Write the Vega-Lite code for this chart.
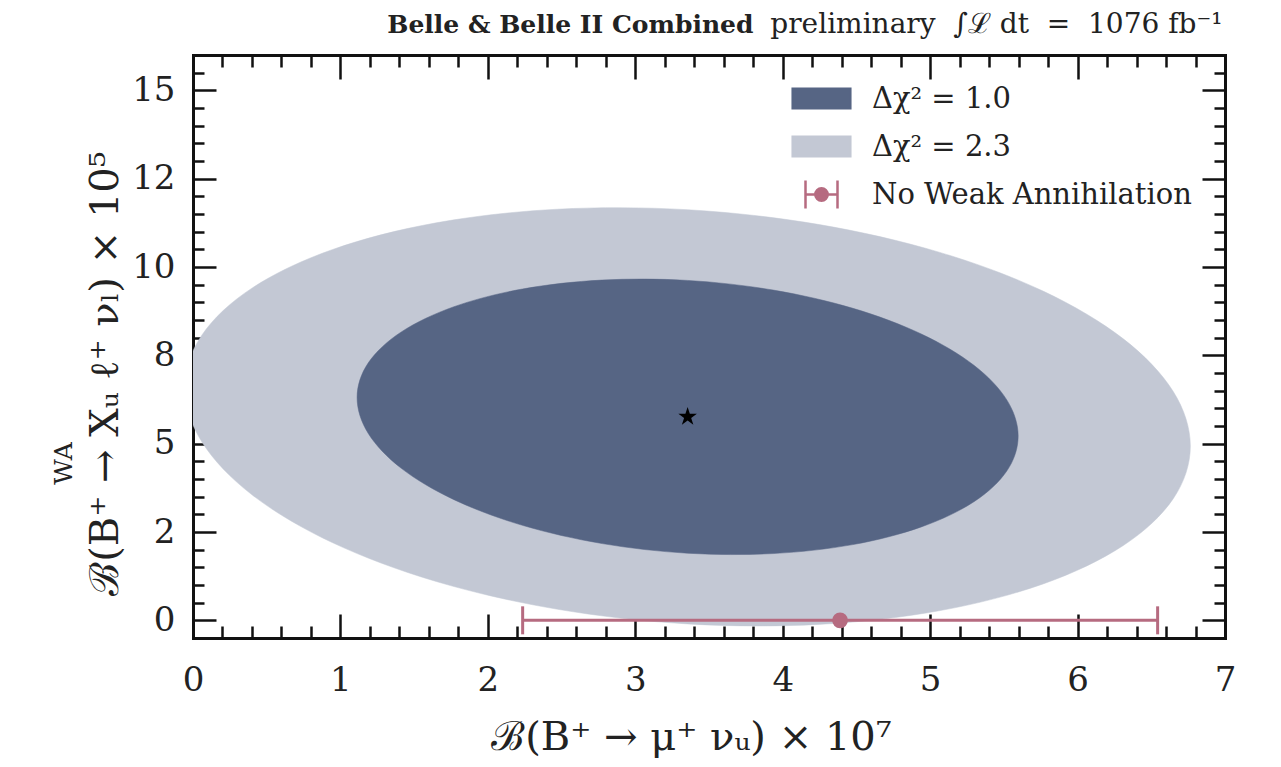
{
  "$schema": "https://vega.github.io/schema/vega-lite/v6.json",
  "width": 1032,
  "height": 583,
  "autosize": {"type": "none"},
  "padding": {"left": 193, "top": 55, "right": 56, "bottom": 129},
  "background": "white",
  "title": {
    "text": "WA",
    "orient": "left",
    "anchor": "middle",
    "frame": "group",
    "font": "DejaVu Serif",
    "fontSize": 25,
    "fontWeight": "normal",
    "color": "#222222",
    "baseline": "bottom",
    "offset": 6,
    "dx": -117,
    "dy": 23
  },
  "config": {
    "view": {"stroke": null},
    "axis": {
      "grid": false,
      "zindex": 1,
      "domainColor": "#111111",
      "domainWidth": 3,
      "domainCap": "square",
      "tickColor": "#111111",
      "tickWidth": 2.5,
      "labelFont": "DejaVu Serif",
      "labelFontSize": 34,
      "labelColor": "#222222",
      "labelOverlap": false,
      "labelFlush": false,
      "titleFont": "DejaVu Serif",
      "titleFontSize": 40,
      "titleFontWeight": "normal",
      "titleColor": "#222222"
    },
    "legend": {
      "orient": "none",
      "legendX": 607,
      "legendY": 22,
      "padding": 0,
      "symbolSize": 1600,
      "symbolStrokeWidth": 2.5,
      "symbolOpacity": 1,
      "labelFont": "DejaVu Serif",
      "labelFontSize": 29,
      "labelColor": "#222222",
      "labelOffset": 29,
      "labelLimit": 0,
      "rowPadding": 11
    }
  },
  "datasets": {
    "outer": [
      {"k": 0, "x": 6.765, "y": 4.931},
      {"k": 1, "x": 6.649, "y": 3.443},
      {"k": 2, "x": 6.308, "y": 2.112},
      {"k": 3, "x": 5.766, "y": 1.030},
      {"k": 4, "x": 5.060, "y": 0.270},
      {"k": 5, "x": 4.238, "y": -0.116},
      {"k": 6, "x": 3.355, "y": -0.101},
      {"k": 7, "x": 2.473, "y": 0.313},
      {"k": 8, "x": 1.650, "y": 1.099},
      {"k": 9, "x": 0.944, "y": 2.202},
      {"k": 10, "x": 0.402, "y": 3.547},
      {"k": 11, "x": 0.061, "y": 5.044},
      {"k": 12, "x": -0.055, "y": 6.589},
      {"k": 13, "x": 0.061, "y": 8.078},
      {"k": 14, "x": 0.402, "y": 9.408},
      {"k": 15, "x": 0.944, "y": 10.491},
      {"k": 16, "x": 1.650, "y": 11.250},
      {"k": 17, "x": 2.473, "y": 11.636},
      {"k": 18, "x": 3.355, "y": 11.621},
      {"k": 19, "x": 4.238, "y": 11.207},
      {"k": 20, "x": 5.060, "y": 10.421},
      {"k": 21, "x": 5.766, "y": 9.318},
      {"k": 22, "x": 6.308, "y": 7.973},
      {"k": 23, "x": 6.649, "y": 6.476}
    ],
    "inner": [
      {"k": 0, "x": 5.597, "y": 5.214},
      {"k": 1, "x": 5.521, "y": 4.233},
      {"k": 2, "x": 5.297, "y": 3.357},
      {"k": 3, "x": 4.940, "y": 2.644},
      {"k": 4, "x": 4.476, "y": 2.143},
      {"k": 5, "x": 3.935, "y": 1.889},
      {"k": 6, "x": 3.355, "y": 1.899},
      {"k": 7, "x": 2.775, "y": 2.172},
      {"k": 8, "x": 2.234, "y": 2.689},
      {"k": 9, "x": 1.770, "y": 3.416},
      {"k": 10, "x": 1.413, "y": 4.302},
      {"k": 11, "x": 1.189, "y": 5.288},
      {"k": 12, "x": 1.113, "y": 6.306},
      {"k": 13, "x": 1.189, "y": 7.287},
      {"k": 14, "x": 1.413, "y": 8.163},
      {"k": 15, "x": 1.770, "y": 8.876},
      {"k": 16, "x": 2.234, "y": 9.377},
      {"k": 17, "x": 2.775, "y": 9.631},
      {"k": 18, "x": 3.355, "y": 9.621},
      {"k": 19, "x": 3.935, "y": 9.348},
      {"k": 20, "x": 4.476, "y": 8.831},
      {"k": 21, "x": 4.940, "y": 8.104},
      {"k": 22, "x": 5.297, "y": 7.218},
      {"k": 23, "x": 5.521, "y": 6.232}
    ],
    "bestfit": [{"x": 3.355, "y": 5.76}],
    "nowa": [{"lo": 2.236, "hi": 6.543, "mid": 4.389, "y": 0}],
    "keys": [
      {"s": "Δχ² = 1.0"},
      {"s": "Δχ² = 2.3"},
      {"s": "No Weak Annihilation"}
    ]
  },
  "layer": [
    {
      "data": {"name": "outer"},
      "mark": {"type": "line", "interpolate": "cardinal-closed", "fill": "#c3c8d4", "stroke": "#c3c8d4", "strokeWidth": 0.5, "clip": true},
      "encoding": {
        "order": {"field": "k", "type": "quantitative"},
        "x": {
          "field": "x", "type": "quantitative",
          "scale": {"domain": [0, 7], "nice": false, "zero": false},
          "axis": {
            "orient": "bottom",
            "values": [0, 0.2, 0.4, 0.6, 0.8, 1, 1.2, 1.4, 1.6, 1.8, 2, 2.2, 2.4, 2.6, 2.8, 3, 3.2, 3.4, 3.6, 3.8, 4, 4.2, 4.4, 4.6, 4.8, 5, 5.2, 5.4, 5.6, 5.8, 6, 6.2, 6.4, 6.6, 6.8, 7],
            "tickSize": {"condition": {"test": "abs(datum.value - round(datum.value)) < 0.001", "value": -24}, "value": -12},
            "labelPadding": 49,
            "labelExpr": "abs(datum.value - round(datum.value)) < 0.001 ? format(datum.value, 'd') : ''",
            "title": "ℬ(B⁺ → μ⁺ νᵤ) × 10⁷",
            "titleX": 498,
            "titleY": 111,
            "titleAlign": "center",
            "titleBaseline": "alphabetic"
          }
        },
        "y": {
          "field": "y", "type": "quantitative",
          "scale": {"domain": [-0.5, 16], "nice": false, "zero": false},
          "axis": {
            "orient": "left",
            "values": [0, 0.5, 1, 1.5, 2, 2.5, 3, 3.5, 4, 4.5, 5, 5.5, 6, 6.5, 7, 7.5, 8, 8.5, 9, 9.5, 10, 10.5, 11, 11.5, 12, 12.5, 13, 13.5, 14, 14.5, 15, 15.5],
            "tickSize": {"condition": {"test": "abs(datum.value / 2.5 - round(datum.value / 2.5)) < 0.001", "value": -23}, "value": -11},
            "labelPadding": 41,
            "labelExpr": "datum.value == 2.5 ? '2' : datum.value == 7.5 ? '8' : datum.value == 12.5 ? '12' : abs(datum.value / 2.5 - round(datum.value / 2.5)) < 0.001 ? format(datum.value, 'd') : ''",
            "title": "ℬ(B⁺ → Xᵤ ℓ⁺ νₗ) × 10⁵",
            "titleAngle": -90,
            "titleX": -76,
            "titleY": 318,
            "titleAlign": "center",
            "titleBaseline": "alphabetic"
          }
        }
      }
    },
    {
      "data": {"name": "inner"},
      "mark": {"type": "line", "interpolate": "cardinal-closed", "fill": "#566584", "stroke": "#566584", "strokeWidth": 0.5, "clip": true},
      "encoding": {
        "order": {"field": "k", "type": "quantitative"},
        "x": {
          "field": "x", "type": "quantitative",
          "axis": {
            "orient": "top",
            "values": [0, 0.2, 0.4, 0.6, 0.8, 1, 1.2, 1.4, 1.6, 1.8, 2, 2.2, 2.4, 2.6, 2.8, 3, 3.2, 3.4, 3.6, 3.8, 4, 4.2, 4.4, 4.6, 4.8, 5, 5.2, 5.4, 5.6, 5.8, 6, 6.2, 6.4, 6.6, 6.8, 7],
            "tickSize": {"condition": {"test": "abs(datum.value - round(datum.value)) < 0.001", "value": -24}, "value": -12},
            "labels": false,
            "title": "preliminary\u00a0\u00a0∫ℒ\u00a0dt\u00a0\u00a0=\u00a0\u00a01076\u00a0fb⁻¹",
            "titleFont": "DejaVu Serif",
            "titleFontSize": 28,
            "titleFontWeight": "normal",
            "titleX": 1029,
            "titleY": -23,
            "titleAlign": "right",
            "titleBaseline": "alphabetic"
          }
        },
        "y": {
          "field": "y", "type": "quantitative",
          "axis": {
            "orient": "right",
            "values": [0, 0.5, 1, 1.5, 2, 2.5, 3, 3.5, 4, 4.5, 5, 5.5, 6, 6.5, 7, 7.5, 8, 8.5, 9, 9.5, 10, 10.5, 11, 11.5, 12, 12.5, 13, 13.5, 14, 14.5, 15, 15.5],
            "tickSize": {"condition": {"test": "abs(datum.value / 2.5 - round(datum.value / 2.5)) < 0.001", "value": -23}, "value": -11},
            "labels": false,
            "title": "Belle & Belle II Combined",
            "titleFont": "DejaVu Serif",
            "titleFontSize": 25,
            "titleFontWeight": "bold",
            "titleAngle": 0,
            "titleX": -472,
            "titleY": -23,
            "titleAlign": "right",
            "titleBaseline": "alphabetic"
          }
        }
      }
    },
    {
      "data": {"name": "bestfit"},
      "mark": {"type": "point", "shape": "M0,-1L0.225,-0.309L0.951,-0.309L0.363,0.118L0.588,0.809L0,0.382L-0.588,0.809L-0.363,0.118L-0.951,-0.309L-0.225,-0.309Z", "filled": true, "color": "#000000", "size": 380, "opacity": 1},
      "encoding": {
        "x": {"field": "x", "type": "quantitative", "axis": null},
        "y": {"field": "y", "type": "quantitative", "axis": null}
      }
    },
    {
      "data": {"name": "nowa"},
      "mark": {"type": "rule", "color": "#b66b80", "strokeWidth": 3},
      "encoding": {
        "x": {"field": "lo", "type": "quantitative", "axis": null},
        "x2": {"field": "hi"},
        "y": {"field": "y", "type": "quantitative", "axis": null}
      }
    },
    {
      "data": {"name": "nowa"},
      "mark": {"type": "tick", "orient": "vertical", "color": "#b66b80", "size": 28, "thickness": 3, "opacity": 1},
      "encoding": {
        "x": {"field": "lo", "type": "quantitative", "axis": null},
        "y": {"field": "y", "type": "quantitative", "axis": null}
      }
    },
    {
      "data": {"name": "nowa"},
      "mark": {"type": "tick", "orient": "vertical", "color": "#b66b80", "size": 28, "thickness": 3, "opacity": 1},
      "encoding": {
        "x": {"field": "hi", "type": "quantitative", "axis": null},
        "y": {"field": "y", "type": "quantitative", "axis": null}
      }
    },
    {
      "data": {"name": "nowa"},
      "mark": {"type": "circle", "color": "#b66b80", "size": 250, "opacity": 1},
      "encoding": {
        "x": {"field": "mid", "type": "quantitative", "axis": null},
        "y": {"field": "y", "type": "quantitative", "axis": null}
      }
    },
    {
      "data": {"name": "keys"},
      "mark": {"type": "point", "filled": true, "opacity": 0, "strokeWidth": 2.5},
      "encoding": {
        "fill": {
          "field": "s", "type": "nominal",
          "scale": {"domain": ["Δχ² = 1.0", "Δχ² = 2.3", "No Weak Annihilation"], "range": ["#566584", "#c3c8d4", "#b66b80"]},
          "legend": {"title": null}
        },
        "stroke": {
          "field": "s", "type": "nominal",
          "scale": {"domain": ["Δχ² = 1.0", "Δχ² = 2.3", "No Weak Annihilation"], "range": ["#566584", "#c3c8d4", "#b66b80"]},
          "legend": {"title": null}
        },
        "shape": {
          "field": "s", "type": "nominal",
          "scale": {
            "domain": ["Δχ² = 1.0", "Δχ² = 2.3", "No Weak Annihilation"],
            "range": [
              "M-1.44,-0.49H1.44V0.49H-1.44Z",
              "M-1.44,-0.49H1.44V0.49H-1.44Z",
              "M-0.8,-0.7V0.7M-0.8,0H0.8M0.8,-0.7V0.7M0.31,0A0.31,0.31 0 1 1 -0.31,0A0.31,0.31 0 1 1 0.31,0Z"
            ]
          },
          "legend": {"title": null}
        }
      }
    }
  ],
  "resolve": {"axis": {"x": "independent", "y": "independent"}}
}
